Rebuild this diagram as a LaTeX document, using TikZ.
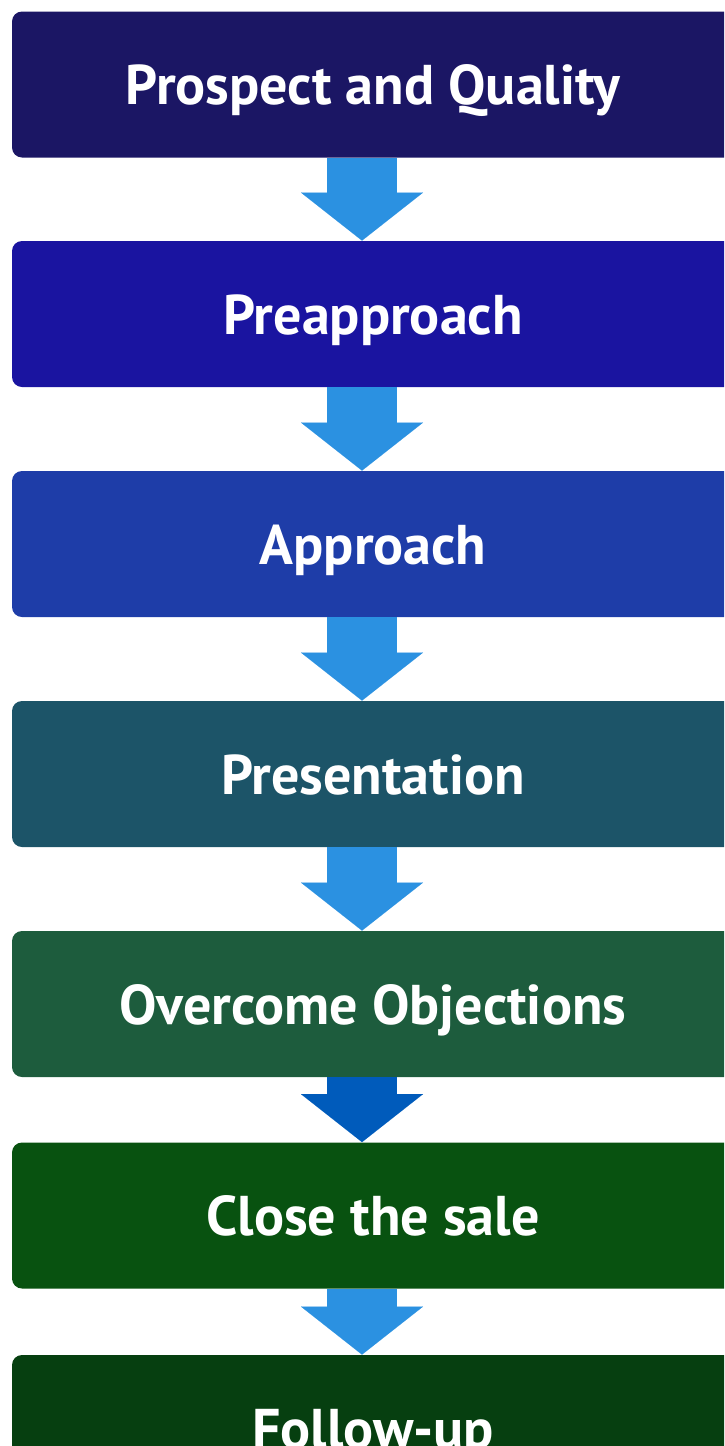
\documentclass[tikz,border=0pt]{standalone}
\usepackage{fontspec}
\setmainfont{PT Sans}
\usepackage{tikz}
\usetikzlibrary{arrows.meta,positioning}
\definecolor{stepA}{HTML}{1B1664}
\definecolor{stepB}{HTML}{1A14A0}
\definecolor{stepC}{HTML}{1E3DA8}
\definecolor{stepD}{HTML}{1C5468}
\definecolor{stepE}{HTML}{1D5C3D}
\definecolor{stepF}{HTML}{085210}
\definecolor{stepG}{HTML}{063F10}
\definecolor{arrowblue}{HTML}{2B91E1}
\definecolor{arrowdark}{HTML}{005BBB}
\tikzset{
  stagebox/.style={
    rectangle, rounded corners=5pt, inner sep=0pt,
    minimum width=361pt, minimum height=73pt,
    text height=22pt, text depth=2pt,
    font=\fontsize{28}{33}\selectfont\bfseries, text=white, fill=#1
  },
  stagebox/.default=stepA,
  blockarrow/.style={
    line width=35pt, draw=#1,
    -{Triangle[length=24pt,width=61pt,line width=0.01pt,fill=#1]}
  },
  blockarrow/.default=arrowblue
}
\begin{document}
\begin{tikzpicture}[x=0.5pt,y=0.5pt]
\useasboundingbox (0,0) rectangle (724,-1446);
\clip (0,0) rectangle (724,-1446);
% Stage boxes
\node[stagebox=stepA] (prospect) at (373,-84.5) {Prospect and Quality};
\node[stagebox=stepB] (preapp) at (373,-314) {Preapproach};
\node[stagebox=stepC] (approach) at (373,-544) {Approach};
\node[stagebox=stepD] (present) at (373,-774) {Presentation};
\node[stagebox=stepE] (objection) at (373,-1004) {Overcome Objections};
\node[stagebox=stepF] (close) at (373,-1215.5) {Close the sale};
\node[stagebox=stepG] (follow) at (373,-1428) {Follow-up};

% Arrows
\draw[blockarrow] ([xshift=-5.5pt]prospect.south) -- ([xshift=-5.5pt]preapp.north);
\draw[blockarrow] ([xshift=-5.5pt]preapp.south) -- ([xshift=-5.5pt]approach.north);
\draw[blockarrow] ([xshift=-5.5pt]approach.south) -- ([xshift=-5.5pt]present.north);
\draw[blockarrow] ([xshift=-5.5pt]present.south) -- ([xshift=-5.5pt]objection.north);
\draw[blockarrow=arrowdark] ([xshift=-5.5pt]objection.south) -- ([xshift=-5.5pt]close.north);
\draw[blockarrow] ([xshift=-5.5pt]close.south) -- ([xshift=-5.5pt]follow.north);
\end{tikzpicture}
\end{document}
